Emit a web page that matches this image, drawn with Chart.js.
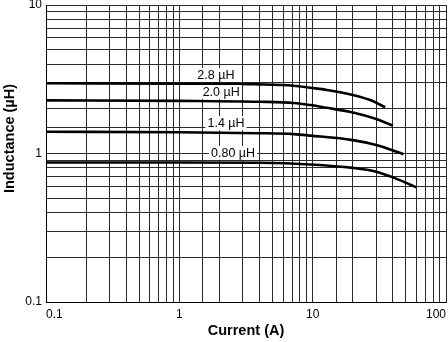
<!DOCTYPE html>
<html>
<head>
<meta charset="utf-8">
<script src="https://cdn.jsdelivr.net/npm/chart.js@4"></script>
<style>
  html, body { margin: 0; padding: 0; background: #fff; }
  #wrap { width: 448px; height: 342px; }
</style>
</head>
<body>
<div id="wrap"><canvas id="chart"></canvas></div>
<script>
// curves: current (A) and inductance (uH)
var current28 = [0.1, 1, 4, 7.2, 9.6, 12.8, 20, 27, 35];
var induct28 = [2.97, 2.95, 2.92, 2.86, 2.77, 2.68, 2.48, 2.29, 2.05];
var current20 = [0.1, 1, 4, 7.2, 9.6, 12.8, 20, 30, 40];
var induct20 = [2.28, 2.26, 2.23, 2.19, 2.12, 2.03, 1.89, 1.71, 1.54];
var current14 = [0.1, 1, 4, 7.2, 9.6, 20, 30, 48];
var induct14 = [1.4, 1.39, 1.37, 1.35, 1.32, 1.23, 1.14, 0.99];
var current08 = [0.1, 1, 4, 9.6, 20, 30, 45, 60];
var induct08 = [0.87, 0.87, 0.866, 0.844, 0.8, 0.753, 0.662, 0.591];

var seriesNames = ["2.8 µH", "2.0 µH", "1.4 µH", "0.80 µH"];
// where each curve name sits (in data units)
var nameCurrent = [1.88, 2.06, 2.24, 2.53];
var nameInduct = [3.38, 2.59, 1.6, 1.01];

var xTicks = [0.1, 1, 10, 100];
var xTickLabels = ["0.1", "1", "10", "100"];
var yTicks = [0.1, 1, 10];
var yTickLabels = ["0.1", "1", "10"];

var FONT = "'Liberation Sans', Arial, Helvetica, sans-serif";
var GRID = "#2a2a2a";

function toPoints(xs, ys) {
    return xs.map((x, i) => ({ x: x, y: ys[i] }));
}

function decadeLabel(values, labels) {
    return function (value) {
        for (let i = 0; i < values.length; i++) {
            if (Math.abs(value - values[i]) < values[i] * 1e-6) return labels[i];
        }
        return "";
    };
}

// y title sits a bit above the middle of the plot in the original
var yTitlePlugin = {
    id: "yTitle",
    afterDraw(chart) {
        const ctx = chart.ctx;
        const area = chart.chartArea;
        ctx.save();
        ctx.translate(10, (area.top + area.bottom) / 2 - 15);
        ctx.rotate(-Math.PI / 2);
        ctx.font = "bold 14.5px " + FONT;
        ctx.fillStyle = "#000";
        ctx.textAlign = "center";
        ctx.textBaseline = "middle";
        ctx.fillText("Inductance (µH)", 0, 0);
        ctx.restore();
    }
};

// curve names on white boxes
var curveNamePlugin = {
    id: "curveNames",
    afterDatasetsDraw(chart) {
        const ctx = chart.ctx;
        const xs = chart.scales.x, ys = chart.scales.y;
        ctx.save();
        ctx.font = "12.5px " + FONT;
        ctx.textAlign = "center";
        ctx.textBaseline = "middle";
        seriesNames.forEach((name, i) => {
            const px = xs.getPixelForValue(nameCurrent[i]);
            const py = ys.getPixelForValue(nameInduct[i]);
            const w = ctx.measureText(name).width;
            ctx.fillStyle = "#fff";
            ctx.fillRect(px - w / 2 - 2, py - 7, w + 4, 14);
            ctx.fillStyle = "#000";
            ctx.fillText(name, px, py + 0.5);
        });
        ctx.restore();
    }
};

var datasets = [
    [current28, induct28],
    [current20, induct20],
    [current14, induct14],
    [current08, induct08]
].map((s, i) => ({
    label: seriesNames[i],
    data: toPoints(s[0], s[1]),
    borderColor: "#000",
    borderWidth: 2.6,
    pointRadius: 0,
    fill: false,
    cubicInterpolationMode: "monotone"
}));

new Chart(document.getElementById("chart"), {
    type: "line",
    data: { datasets: datasets },
    plugins: [yTitlePlugin, curveNamePlugin],
    options: {
        responsive: true,
        maintainAspectRatio: false,
        animation: false,
        layout: { padding: { top: 5, right: 2, left: 0, bottom: 0 } },
        plugins: {
            legend: { display: false },
            tooltip: { enabled: false }
        },
        scales: {
            x: {
                type: "logarithmic",
                min: 0.1,
                max: 100,
                grid: { color: GRID, lineWidth: 1, drawTicks: false },
                border: { color: "#000", width: 1 },
                ticks: {
                    autoSkip: false,
                    maxRotation: 0,
                    align: "inner",
                    padding: 5,
                    color: "#000",
                    font: { family: FONT, size: 12 },
                    callback: decadeLabel(xTicks, xTickLabels)
                },
                title: {
                    display: true,
                    text: "Current (A)",
                    color: "#000",
                    font: { family: FONT, size: 14.5, weight: "bold" },
                    padding: { top: 0, bottom: 2 }
                },
                afterFit(scale) {
                    scale.height = 40;
                    scale.paddingLeft = 0;
                    scale.paddingRight = 0;
                }
            },
            y: {
                type: "logarithmic",
                min: 0.1,
                max: 10,
                grid: { color: GRID, lineWidth: 1, drawTicks: false },
                border: { color: "#000", width: 1 },
                ticks: {
                    autoSkip: false,
                    padding: 4,
                    color: "#000",
                    font: { family: FONT, size: 12 },
                    callback: decadeLabel(yTicks, yTickLabels)
                },
                afterFit(scale) {
                    scale.width = 46;
                    scale.paddingTop = 0;
                    scale.paddingBottom = 0;
                }
            }
        }
    }
});
</script>
</body>
</html>
